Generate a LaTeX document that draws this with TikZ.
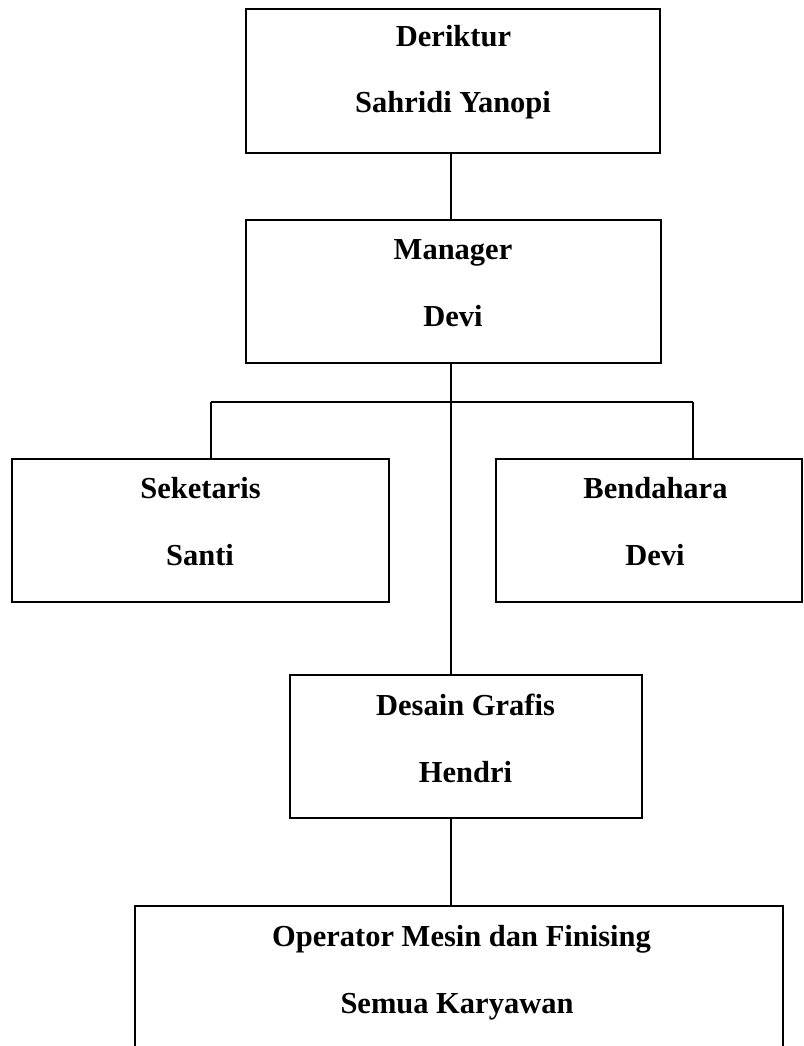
\documentclass[tikz,border=0pt]{standalone}
\usepackage{fontspec}
\setmainfont{Liberation Serif}
\begin{document}
\begin{tikzpicture}[x=1pt,y=-1pt,
  box/.style={draw=black, line width=1.8pt, rectangle, inner sep=0pt, fill=white},
  lbl/.style={anchor=base, inner sep=0pt, font=\fontsize{30.5}{36}\selectfont\bfseries},
  link/.style={draw=black, line width=1.6pt}]
\useasboundingbox (0,0) rectangle (803,1046);
\clip (0,0) rectangle (803,1046);
\fill[white] (0,0) rectangle (803,1046);
% boxes
\node[box, minimum width=414pt, minimum height=144pt] (d) at (453,81) {};
\node[box, minimum width=415pt, minimum height=143pt] (m) at (453.5,291.5) {};
\node[box, minimum width=377pt, minimum height=143pt] (s) at (200.5,530.5) {};
\node[box, minimum width=306pt, minimum height=143pt] (b) at (649,530.5) {};
\node[box, minimum width=352pt, minimum height=143pt] (g) at (466,746.5) {};
\node[box, minimum width=648pt, minimum height=250pt] (o) at (459,1031) {};
% texts
\node[lbl] (d1) at (453.5,47) {Deriktur};
\node[lbl] (d2) at (453,112.5) {Sahridi Yanopi};
\node[lbl] (m1) at (453,259) {Manager};
\node[lbl] (m2) at (453,326) {Devi};
\node[lbl] (s1) at (200.5,498) {Seketaris};
\node[lbl] (s2) at (200,565) {Santi};
\node[lbl] (b1) at (655.5,498) {Bendahara};
\node[lbl] (b2) at (655,565) {Devi};
\node[lbl] (g1) at (465.5,715) {Desain Grafis};
\node[lbl] (g2) at (465.5,782) {Hendri};
\node[lbl] (o1) at (461.5,946) {Operator Mesin dan Finising};
\node[lbl] (o2) at (457,1013) {Semua Karyawan};
% connectors
\coordinate (spine) at (451,0);
\coordinate (sl) at (211,402);
\coordinate (br) at (693,402);
\draw[link] (d.south -| spine) -- (m.north -| spine);
\draw[link] (m.south -| spine) -- (g.north -| spine);
\draw[link] (sl) -- (br);
\draw[link] (sl) -- (sl |- s.north);
\draw[link] (br) -- (br |- b.north);
\draw[link] (g.south -| spine) -- (o.north -| spine);
\end{tikzpicture}
\end{document}
